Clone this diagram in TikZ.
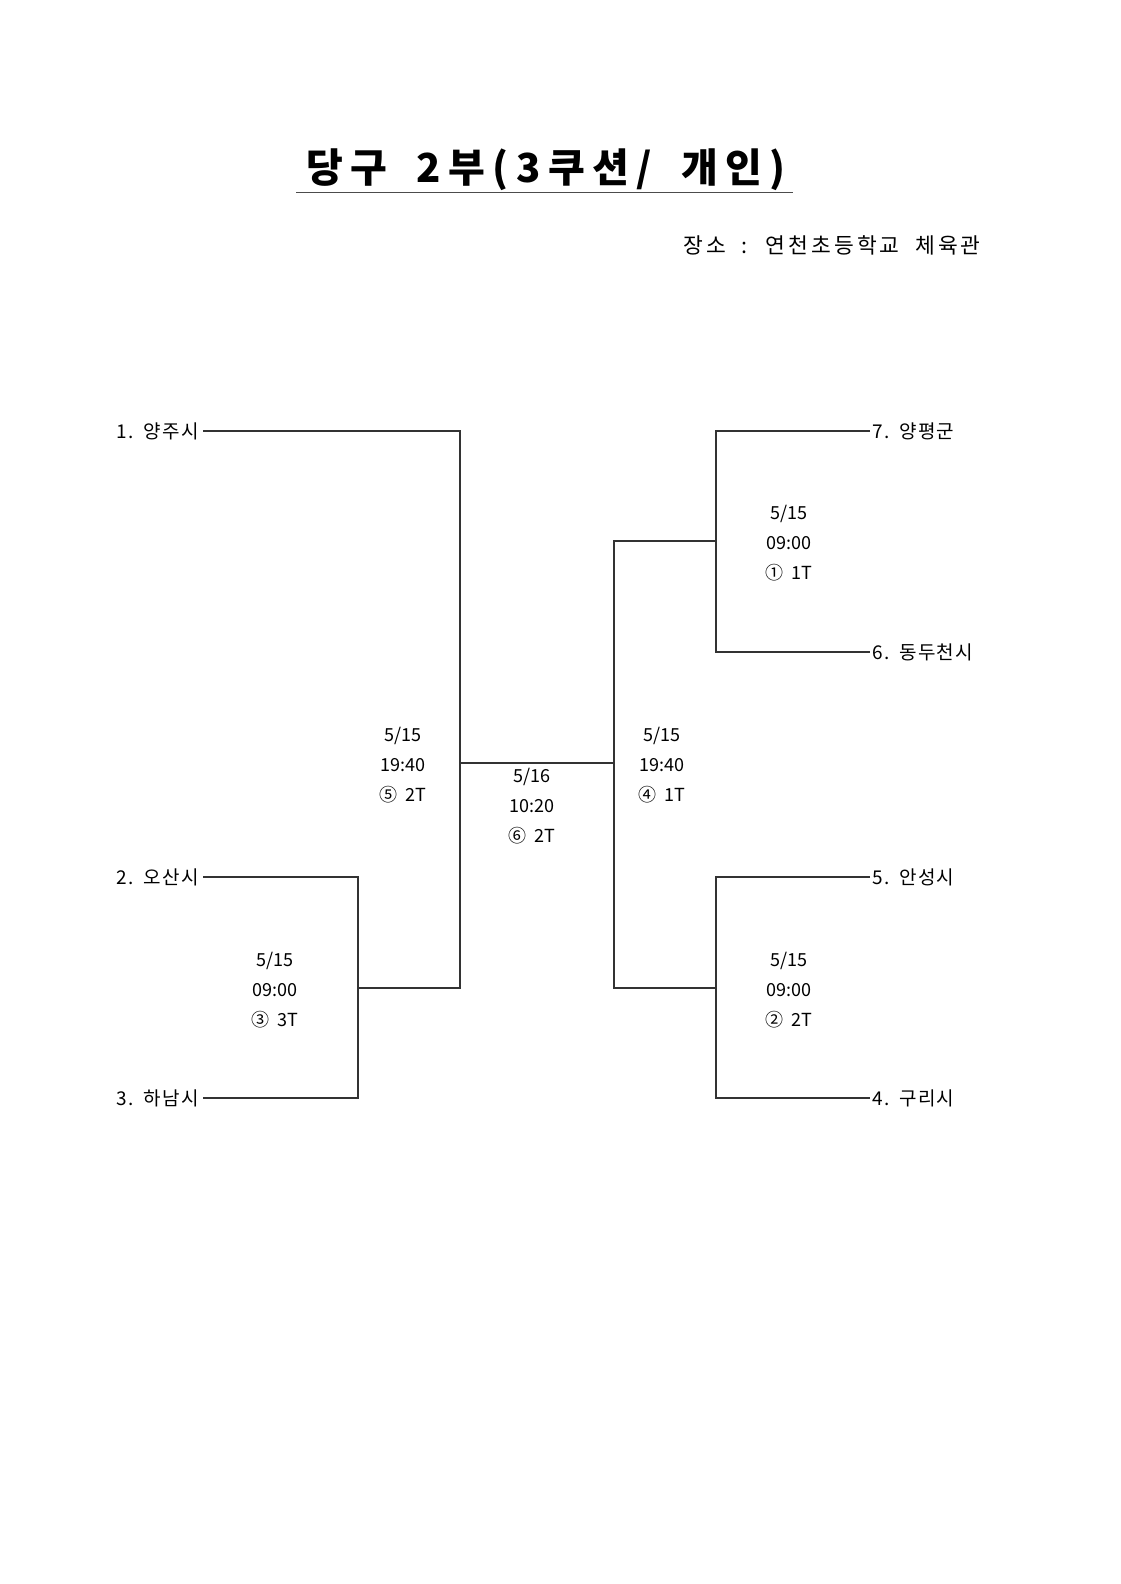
\documentclass[tikz,border=0pt]{standalone}
\usepackage{fontspec}
\setmainfont{Noto Sans CJK KR}
\newfontfamily\titlefont[LetterSpace=19]{Noto Sans CJK KR}
\newfontfamily\placefont[LetterSpace=14]{Noto Sans CJK KR}
\newfontfamily\teamfont[LetterSpace=7]{Noto Sans CJK KR}
\begin{document}
\begin{tikzpicture}[x=1pt,y=-1pt,
  team/.style={inner xsep=4pt, inner ysep=0pt, font=\teamfont\fontsize{19}{21}\selectfont},
  match/.style={align=center, inner sep=0pt, font=\fontsize{18}{30}\selectfont},
  bline/.style={line width=1.1pt, draw=black!80}]
\useasboundingbox[fill=white] (0,0) rectangle (1120,1584);
% title
\node[inner sep=0pt] (title) at (546,170) {\titlefont\bfseries\fontsize{40}{44}\selectfont 당구\hspace{12pt} 2부(3쿠션/\hspace{12pt} 개인)};
\draw[line width=1pt, draw=black!70] (296,192) -- (793,192);
\node[inner sep=0pt, font=\placefont\fontsize{21.5}{24}\selectfont] (place) at (832,245) {장소 \ : \ 연천초등학교 \ 체육관};
% teams
\node[team, anchor=east] (t1) at (203,431) {1.\hspace{10pt}양주시};
\node[team, anchor=east] (t2) at (203,877) {2.\hspace{10pt}오산시};
\node[team, anchor=east] (t3) at (203,1098) {3.\hspace{10pt}하남시};
\node[team, anchor=west, inner xsep=2pt] (t7) at (870,431) {7.\hspace{10pt}양평군};
\node[team, anchor=west, inner xsep=2pt] (t6) at (870,652) {6.\hspace{10pt}동두천시};
\node[team, anchor=west, inner xsep=2pt] (t5) at (870,877) {5.\hspace{10pt}안성시};
\node[team, anchor=west, inner xsep=2pt] (t4) at (870,1098) {4.\hspace{10pt}구리시};
% junctions
\coordinate (j3) at (358,988);
\coordinate (j5) at (460,763);
\coordinate (j4) at (614,763);
\coordinate (j1) at (716,541);
\coordinate (j2) at (716,988);
% bracket lines
\draw[bline] (t2.east) -| (j3) |- (t3.east);
\draw[bline] (t1.east) -| (j5);
\draw[bline] (j3) -| (j5);
\draw[bline] (j5) -- (j4);
\draw[bline] (t7.west) -| (j1) |- (t6.west);
\draw[bline] (t5.west) -| (j2) |- (t4.west);
\draw[bline] (j1) -| (j4);
\draw[bline] (j2) -| (j4);
% match labels
\node[match] (m3) at (275,990) {5/15\\09:00\\③\ \ 3T};
\node[match] (m5) at (403,765) {5/15\\19:40\\⑤\ \ 2T};
\node[match] (m6) at (532,806) {5/16\\10:20\\⑥\ \ 2T};
\node[match] (m4) at (662,765) {5/15\\19:40\\④\ \ 1T};
\node[match] (m1) at (789,543) {5/15\\09:00\\①\ \ 1T};
\node[match] (m2) at (789,990) {5/15\\09:00\\②\ \ 2T};
\end{tikzpicture}
\end{document}
